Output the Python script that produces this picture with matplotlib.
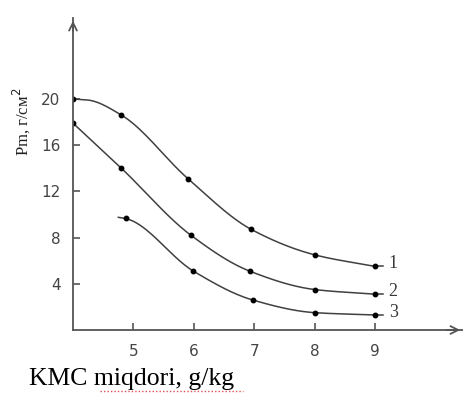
import numpy as np
import matplotlib
matplotlib.use('Agg')
import matplotlib.pyplot as plt

# curve 1
x1 = [4.0, 4.8, 5.9, 6.95, 8.0, 9.0]
y1 = [20.0, 18.6, 13.1, 8.7, 6.5, 5.5]
# curve 2
x2 = [4.0, 4.8, 5.95, 6.92, 8.0, 9.0]
y2 = [17.9, 14.0, 8.2, 5.1, 3.5, 3.1]
# curve 3 (first point is the lead-in stub, no marker)
x3 = [4.75, 4.87, 5.99, 6.97, 8.0, 9.0]
y3 = [9.75, 9.65, 5.1, 2.6, 1.5, 1.3]

curve_names = ['1', '2', '3']
x_ticks = [5, 6, 7, 8, 9]
y_ticks = [4, 8, 12, 16, 20]


def smooth(xs, ys, n=200):
    # monotone cubic hermite (Fritsch-Carlson), just for drawing the line
    xs = np.asarray(xs, float)
    ys = np.asarray(ys, float)
    h = np.diff(xs)
    d = np.diff(ys) / h
    m = np.zeros_like(ys)
    m[0], m[-1] = d[0], d[-1]
    for i in range(1, len(xs) - 1):
        if d[i - 1] * d[i] <= 0:
            m[i] = 0
        else:
            w1 = 2 * h[i] + h[i - 1]
            w2 = h[i] + 2 * h[i - 1]
            m[i] = (w1 + w2) / (w1 / d[i - 1] + w2 / d[i])
    xx, yy = [], []
    for i in range(len(xs) - 1):
        t = np.linspace(0, 1, n // (len(xs) - 1))
        h00 = 2 * t**3 - 3 * t**2 + 1
        h10 = t**3 - 2 * t**2 + t
        h01 = -2 * t**3 + 3 * t**2
        h11 = t**3 - t**2
        xx.append(xs[i] + t * h[i])
        yy.append(h00 * ys[i] + h10 * h[i] * m[i] + h01 * ys[i + 1] + h11 * h[i] * m[i + 1])
    return np.concatenate(xx), np.concatenate(yy)


fig = plt.figure(figsize=(4.64, 3.94), dpi=100)
ax = fig.add_axes([73 / 464, 64 / 394, 390 / 464, 312 / 394])
ax.set_xlim(4.0, 10.45)
ax.set_ylim(0, 27)

line_col = '#404040'
for i, (xs, ys) in enumerate([(x1, y1), (x2, y2), (x3, y3)]):
    sx, sy = smooth(xs, ys)
    if i == 0:
        # curve 1 leaves the axis horizontally
        sx, sy = smooth([xs[0], 4.25] + xs[1:], [ys[0], 19.9] + ys[1:])
    ax.plot(sx, sy, color=line_col, lw=1.1)
    ax.plot([xs[-1], 9.13], [ys[-1], ys[-1]], color=line_col, lw=1.1)
    mx = xs[1:] if i == 2 else xs
    my = ys[1:] if i == 2 else ys
    ax.plot(mx, my, 'o', color='black', ms=3.2)
    ax.text(9.22, ys[-1] + 0.25, curve_names[i], fontsize=13, family='Liberation Serif',
            color='#3a3a3a', va='center', ha='left')

for s in ['top', 'right']:
    ax.spines[s].set_visible(False)
for s in ['left', 'bottom']:
    ax.spines[s].set_color('#555555')
    ax.spines[s].set_linewidth(1.3)

ax.annotate('', xy=(1.0, 0), xytext=(0.95, 0), xycoords='axes fraction',
            arrowprops=dict(arrowstyle='->', color='#555555', lw=1.3, mutation_scale=14))
ax.annotate('', xy=(0, 1.0), xytext=(0, 0.95), xycoords='axes fraction',
            arrowprops=dict(arrowstyle='->', color='#555555', lw=1.3, mutation_scale=14))

ax.set_xticks(x_ticks)
ax.set_yticks(y_ticks)
ax.tick_params(direction='in', length=5, width=1.2, color='#555555',
               labelsize=11, labelcolor='#444444')
ax.tick_params(axis='x', pad=10)
ax.tick_params(axis='y', pad=9)

ax.set_ylabel('Pm, г/см$^2$', family='Liberation Serif', fontsize=12, color='#222222')
ax.yaxis.set_label_coords(-0.105, 0.667)

fig.text(29 / 464, 1 - 379 / 394, 'KMC miqdori, g/kg', family='Liberation Serif',
         fontsize=18.5, va='center', ha='left', color='black')
fig.add_artist(plt.Line2D([100 / 464, 243 / 464], [1 - 391 / 394, 1 - 391 / 394],
                          color='#e05050', lw=1.0, ls=(0, (1, 1.5))))

fig.savefig('out.png', dpi=100)
